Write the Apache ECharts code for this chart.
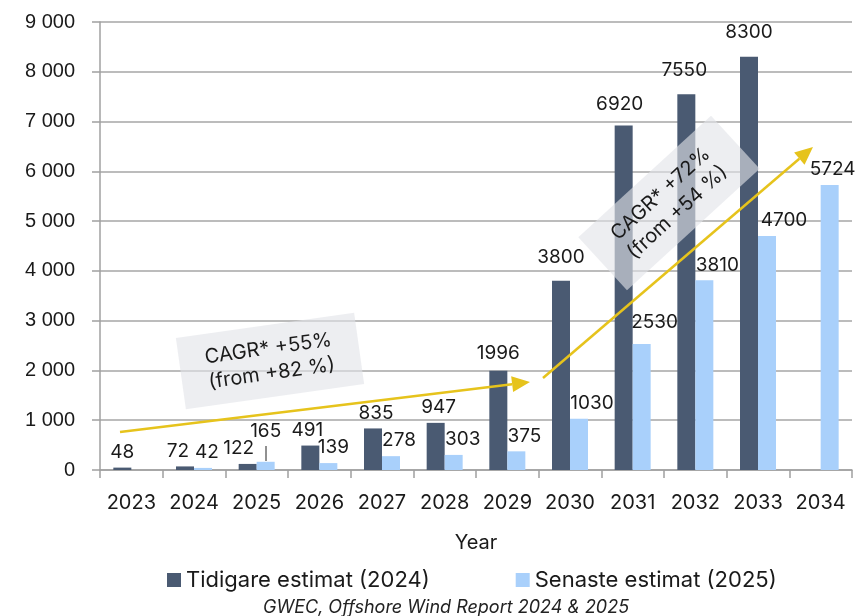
<!DOCTYPE html>
<html><head><meta charset="utf-8">
<script src="https://cdn.jsdelivr.net/npm/echarts@6/dist/echarts.min.js"></script>
<style>html,body{margin:0;padding:0;background:#fff}#c{width:856px;height:616px}</style>
</head><body><div id="c"></div>
<script>
const years = ['2023','2024','2025','2026','2027','2028','2029','2030','2031','2032','2033','2034'];
const earlier = [48, 72, 122, 491, 835, 947, 1996, 3800, 6920, 7550, 8300, null];
const latest = [null, 42, 165, 139, 278, 303, 375, 1030, 2530, 3810, 4700, 5724];
const seriesNames = ['Tidigare estimat (2024)', 'Senaste estimat (2025)'];
const axisName = 'Year';
const sourceText = 'GWEC, Offshore Wind Report 2024 & 2025';
const note1 = 'CAGR* +55%\n(from +82 %)';
const note2 = 'CAGR* +72%\n(from +54 %)';

// label nudges (style only)
const earlierOff = [[0,0],[-7,0],[-9,0],[-3,0],[3,0],[3,0],[0,-2],[0,-8],[-4,-6],[-2,-8],[0,-9],[0,0]];
const latestOff = [[0,0],[4,0],[0,-15],[5,0],[8,0],[9,0],[8,0],[13,0],[13,-6],[13,0],[17,0],[3,0]];

const FONT = 'Inter, "Noto Sans", sans-serif';
const DARK = '#4a5a72';
const LIGHT = '#a9d0fb';

function mk(vals, offs) {
  return vals.map((v, i) => ({ value: v, label: { offset: offs[i] } }));
}

function arrow(x1, y1, x2, y2) {
  const dx = x2 - x1, dy = y2 - y1, L = Math.hypot(dx, dy);
  const ux = dx / L, uy = dy / L, hl = 18, hw = 8;
  const bx = x2 - ux * hl, by = y2 - uy * hl;
  return [
    { type: 'line', z: 20, shape: { x1: x1, y1: y1, x2: bx, y2: by },
      style: { stroke: '#e6c31c', lineWidth: 2.5 } },
    { type: 'polygon', z: 20, shape: { points: [[x2, y2], [bx - uy * hw, by + ux * hw], [bx + uy * hw, by - ux * hw]] },
      style: { fill: '#e6c31c' } }
  ];
}
function note(cx, cy, deg, txt) {
  return {
    type: 'group', x: cx, y: cy, rotation: deg * Math.PI / 180, z: 15,
    children: [
      { type: 'rect', z: 15, shape: { x: -90, y: -36, width: 180, height: 72 },
        style: { fill: 'rgba(226,228,232,0.62)' } },
      { type: 'text', z: 16, x: 0, y: 0,
        style: { text: txt, fill: '#1a1a1a', font: '20px ' + FONT, align: 'center', verticalAlign: 'middle', lineHeight: 25 } }
    ]
  };
}

const chart = echarts.init(document.getElementById('c'), null, { renderer: 'canvas' });
chart.setOption({
  animation: false,
  backgroundColor: '#fff',
  textStyle: { fontFamily: FONT },
  grid: { left: 100, right: 4, top: 22, bottom: 146 },
  legend: {
    left: 162, top: 564, itemWidth: 14, itemHeight: 14, itemGap: 86,
    icon: 'rect',
    textStyle: { fontSize: 22, color: '#1a1a1a', fontFamily: FONT },
    data: seriesNames
  },
  title: {
    text: sourceText, left: 258, top: 594,
    textStyle: { fontSize: 18, fontStyle: 'italic', fontWeight: 'normal', color: '#222', fontFamily: FONT }
  },
  xAxis: {
    type: 'category', data: years,
    name: axisName, nameLocation: 'middle', nameGap: 63,
    nameTextStyle: { fontSize: 20, color: '#1a1a1a', fontFamily: FONT },
    axisLine: { lineStyle: { color: '#a0a0a0', width: 1.5 } },
    axisTick: { show: true, length: 8, interval: 0, lineStyle: { color: '#a0a0a0', width: 1.5 } },
    axisLabel: { fontSize: 20, color: '#1a1a1a', margin: 23, fontFamily: FONT, interval: 0 }
  },
  yAxis: {
    type: 'value', min: 0, max: 9000, interval: 1000,
    axisLine: { show: true, lineStyle: { color: '#a0a0a0', width: 1.5 } },
    axisTick: { show: true, length: 8, lineStyle: { color: '#a0a0a0', width: 1.5 } },
    splitLine: { lineStyle: { color: '#a6a6a6', width: 1.5 } },
    axisLabel: {
      fontSize: 20, color: '#1a1a1a', margin: 25, fontFamily: '"Liberation Sans", Arial, sans-serif',
      formatter: v => v >= 1000 ? Math.floor(v / 1000) + ' ' + String(v % 1000).padStart(3, '0') : String(v)
    }
  },
  series: [
    {
      name: seriesNames[0], type: 'bar', barWidth: 18, barGap: '0%',
      itemStyle: { color: DARK },
      label: { show: true, position: 'top', distance: 6, fontSize: 19, color: '#1a1a1a', fontFamily: FONT },
      data: mk(earlier, earlierOff)
    },
    {
      name: seriesNames[1], type: 'bar', barWidth: 18, barGap: '0%',
      itemStyle: { color: LIGHT },
      label: { show: true, position: 'top', distance: 6, fontSize: 19, color: '#1a1a1a', fontFamily: FONT },
      data: mk(latest, latestOff)
    }
  ],
  graphic: [].concat(
    arrow(120, 432, 530, 382),
    [note(270, 361, 8, note1)],
    [note(669, 203, 42.5, note2)],
    arrow(543, 378, 813, 147),
    [{ type: 'line', z: 20, shape: { x1: 266, y1: 446, x2: 266, y2: 461 }, style: { stroke: '#222', lineWidth: 1 } }]
  )
});
</script></body></html>
